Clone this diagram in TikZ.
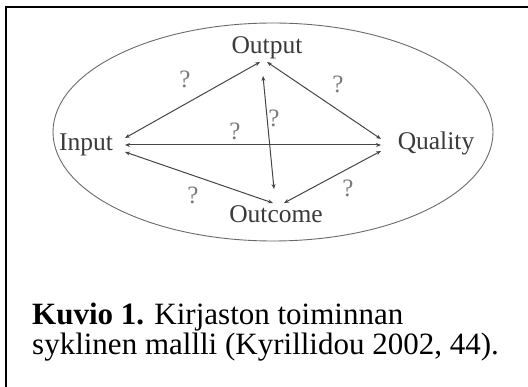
\documentclass[tikz,border=0pt]{standalone}
\usepackage{fontspec}
\setmainfont{Liberation Serif}
\usetikzlibrary{arrows.meta}
\definecolor{inkgray}{HTML}{3A3A3A}
\definecolor{linegray}{HTML}{454545}
\definecolor{ovalgray}{HTML}{6A6A6A}
\definecolor{qgray}{HTML}{7A7A7A}
\tikzset{
  lbl/.style={font=\fontsize{25.5}{27}\selectfont, text=inkgray, inner sep=0pt},
  qmark/.style={font=\fontsize{25}{27}\selectfont, text=qgray, inner sep=0pt},
  link/.style={draw=linegray, line width=1pt, {Stealth[length=5pt,width=4pt]}-{Stealth[length=5pt,width=4pt]}},
}
\begin{document}
\begin{tikzpicture}[x=1pt,y=-1pt]
\useasboundingbox (0,0) rectangle (528,387);
% frame
\draw[line width=2pt,black] (6,387) -- (6,7.5) -- (528,7.5);
% oval
\draw[ovalgray, line width=0.9pt] (273,132) ellipse [x radius=220, y radius=109];
% labels
\node[lbl] (output) at (267,48) {Output};
\node[lbl] (input) at (86,145) {Input};
\node[lbl] (quality) at (436,143) {Quality};
\node[lbl] (outcome) at (276,214) {Outcome};
% endpoints
\coordinate (oL) at (260,62);
\coordinate (oR) at (267,62);
\coordinate (oV) at (263,76);
\coordinate (iT) at (125,138);
\coordinate (iM) at (125,145);
\coordinate (iB) at (125,152);
\coordinate (qT) at (381,139);
\coordinate (qM) at (381,145);
\coordinate (qB) at (381,151);
\coordinate (uV) at (274,189);
\coordinate (uL) at (273,203);
\coordinate (uR) at (284,203);
% connectors
\draw[link] (iT) -- (oL);
\draw[link] (oR) -- (qT);
\draw[link] (iM) -- (qM);
\draw[link] (iB) -- (uL);
\draw[link] (qB) -- (uR);
\draw[link] (oV) -- (uV);
% question marks
\node[qmark] (q1) at (185,79) {?};
\node[qmark] (q2) at (338,84) {?};
\node[qmark] (q3) at (274,118) {?};
\node[qmark] (q4) at (235,131) {?};
\node[qmark] (q5) at (193,195) {?};
\node[qmark] (q6) at (348,188) {?};
% caption
\node[anchor=base west, inner sep=0pt, font=\fontsize{31}{33}\selectfont] (cap1) at (32,325) {\textbf{Kuvio 1.} Kirjaston toiminnan};
\node[anchor=base west, inner sep=0pt, font=\fontsize{31}{33}\selectfont] (cap2) at (32,355) {syklinen mallli (Kyrillidou 2002, 44).};
\end{tikzpicture}
\end{document}
